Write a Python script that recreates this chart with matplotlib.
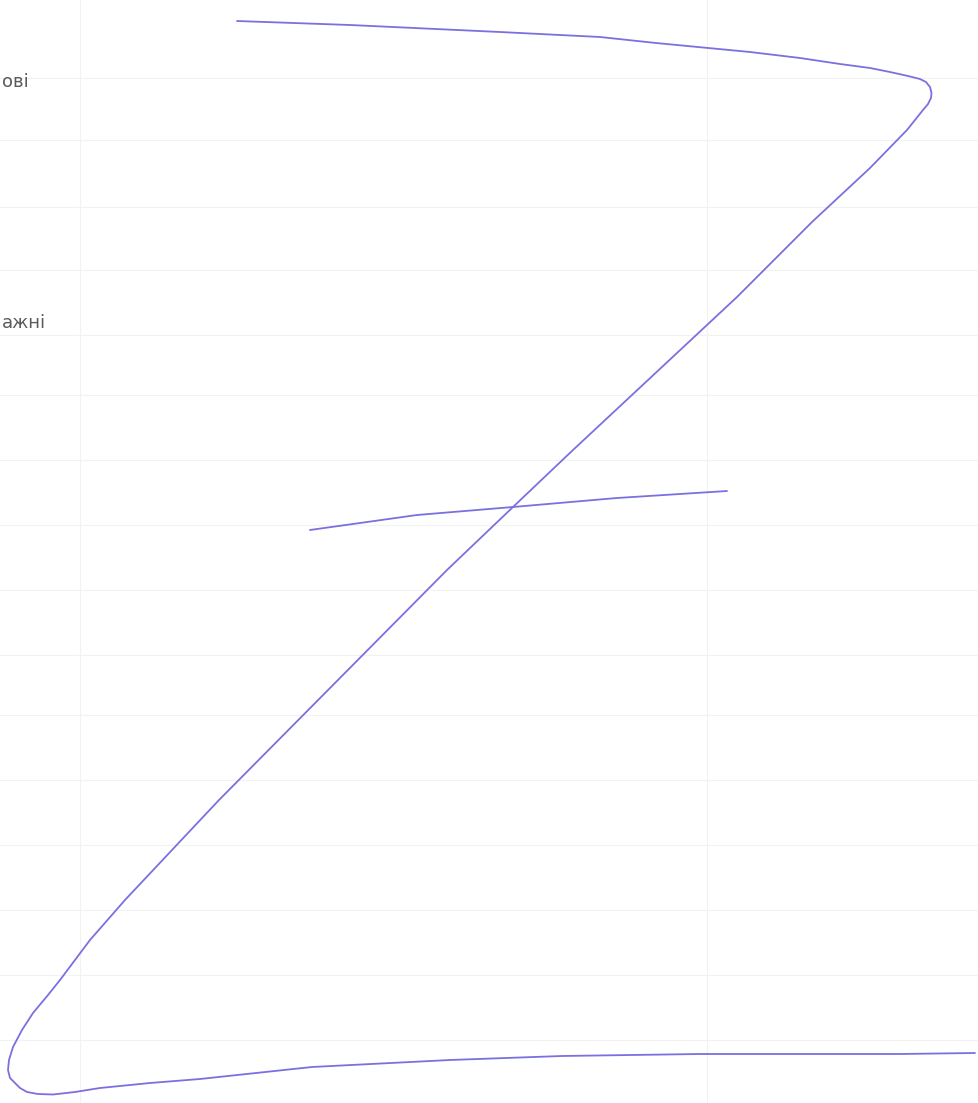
import matplotlib
matplotlib.use("Agg")
import matplotlib.pyplot as plt

# Handwritten "Z" stroke (image pixel coordinates: x right, y down)
z_x = [237, 350, 500, 600, 656, 750, 800, 840, 870, 890, 908, 920, 926, 930, 931.5, 931, 928,
       923, 915, 907, 870, 812, 737, 573, 513, 447, 219, 125, 90, 60, 48, 33, 22, 13, 9, 8, 10,
       15, 20, 27, 38, 53, 75, 100, 150, 200, 312, 450, 562, 700, 800, 900, 975]
z_y = [21, 25, 32, 37, 43, 52, 58, 64, 68, 72, 76, 79, 82, 87, 93, 98, 104,
       110, 120, 130, 168, 222, 297, 450, 507, 570, 800, 900, 940, 980, 995, 1013, 1030, 1047, 1060, 1070, 1078,
       1083, 1088, 1092, 1094, 1094.5, 1092, 1088, 1083, 1079, 1067, 1060, 1056, 1054, 1054, 1054, 1053]

# Cross stroke
bar_x = [310, 360, 417, 513, 617, 680, 727]
bar_y = [530, 523, 515, 507, 498, 494, 491]

# Faint ruled lines of the page
h_lines = [78, 140, 207, 270, 335, 395, 460, 525, 590, 655, 715, 780, 845, 910, 975, 1040]
v_lines = [80, 707]

labels = ["ові", "ажні"]
label_y = [82, 323]
label_left = [2, 2]

fig = plt.figure(figsize=(9.79, 11.03), dpi=100)
ax = fig.add_axes([0, 0, 1, 1])
ax.set_xlim(0, 979)
ax.set_ylim(1103, 0)
ax.axis("off")

for y in h_lines:
    ax.axhline(y, color="#f2f2f2", lw=0.8, zorder=0)
for x in v_lines:
    ax.axvline(x, color="#f2f2f2", lw=0.8, zorder=0)

ax.plot(z_x, z_y, color="#7a70e0", lw=1.3, solid_capstyle="round", solid_joinstyle="round")
ax.plot(bar_x, bar_y, color="#7a70e0", lw=1.3, solid_capstyle="round", solid_joinstyle="round")

for t, y, xl in zip(labels, label_y, label_left):
    ax.text(xl, y, t, ha="left", va="center", fontsize=13, color="#5a5a5a",
            family=["DejaVu Sans"])

fig.savefig("out.png", dpi=100)
